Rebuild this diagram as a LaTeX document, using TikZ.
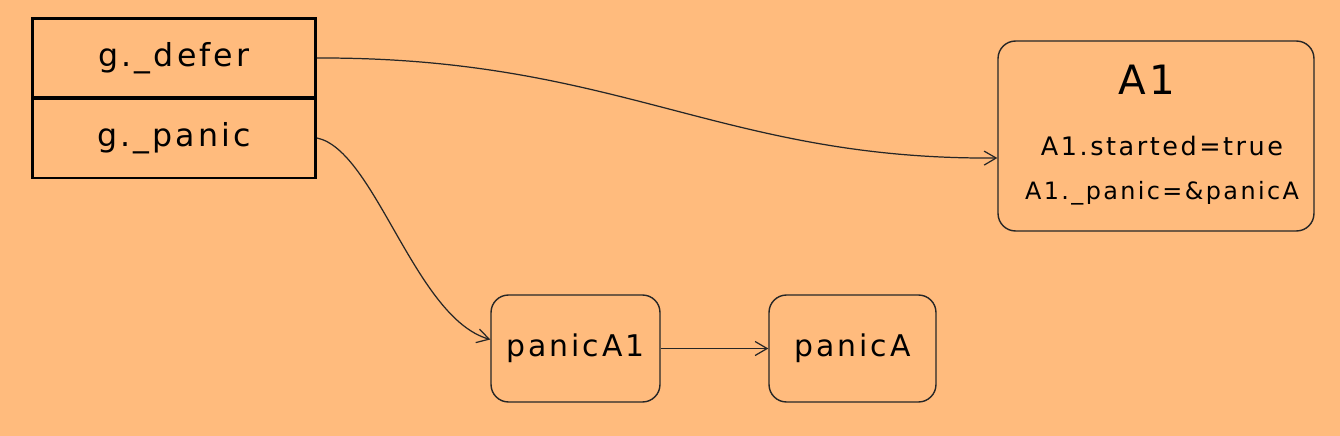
\documentclass[tikz,border=0pt]{standalone}
\usepackage{fontspec}
\setmainfont{DejaVu Sans}[LetterSpace=10]
\usetikzlibrary{arrows.meta}
\definecolor{bgorange}{RGB}{255,187,125}

\begin{document}
\begin{tikzpicture}[x=0.02cm,y=-0.02cm,
  field/.style={draw,line width=1.7pt,minimum width=5.66cm,minimum height=1.6cm,font=\fontsize{18}{22}\selectfont},
  obj/.style={draw=black!85,line width=0.8pt,rounded corners=0.35cm},
  link/.style={draw=black!85,line width=0.7pt,-{Straight Barb[length=2.4mm,width=2.8mm]}}]
\fill[bgorange] (0,0) rectangle (1340,436);
% the two fields of g
\node at (174,58) [field] (defer) {g.\_defer};
\node at (174,138) [field] (panic) {g.\_panic};
% defer record
\node at (1156,136) [obj,minimum width=6.32cm,minimum height=3.8cm] (A1) {};
\node at (1147,80) [font=\fontsize{23}{28}\selectfont] (A1title) {A1};
\node at (1162,146) [font=\fontsize{14.5}{18}\selectfont] (A1started) {A1.started=true};
\node at (1162,193) [font=\fontsize{13.6}{18}\selectfont] (A1panic) {A1.\_panic=\&panicA};
% panic records
\node at (575.5,348.5) [obj,minimum width=3.38cm,minimum height=2.14cm,font=\fontsize{17}{22}\selectfont] (panicA1) {panicA1};
\node at (852.5,348.5) [obj,minimum width=3.34cm,minimum height=2.14cm,font=\fontsize{17}{22}\selectfont] (panicA) {panicA};
\draw[link] (defer.east) .. controls (620,57) and (720,160) .. ([yshift=-0.44cm]A1.west);
\draw[link] (panic.east) .. controls (375,150) and (415,318) .. ([yshift=0.18cm]panicA1.west);
\draw[link] (panicA1.east) -- (panicA.west);
\end{tikzpicture}
\end{document}
